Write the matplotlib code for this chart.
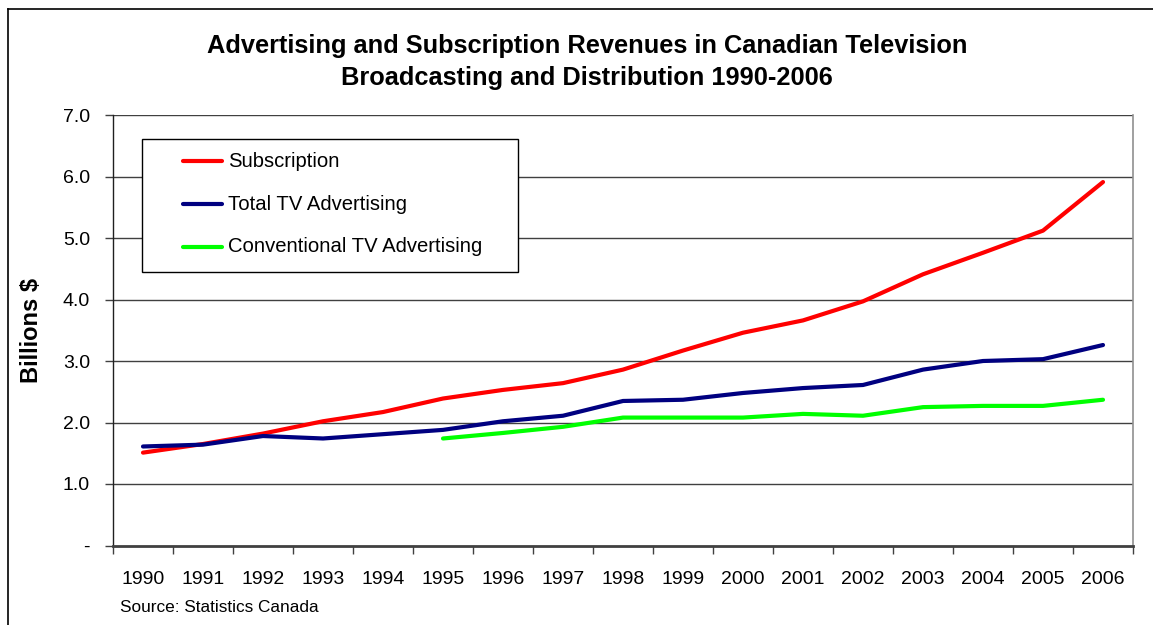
import matplotlib.pyplot as plt
from matplotlib.lines import Line2D
from matplotlib.patches import Rectangle

plt.rcParams["font.family"] = ["Liberation Sans", "DejaVu Sans"]

years = [str(y) for y in range(1990, 2007)]
subscription = [1.51, 1.65, 1.82, 2.02, 2.17, 2.39, 2.53, 2.64, 2.86, 3.17,
                3.46, 3.66, 3.97, 4.41, 4.76, 5.12, 5.91]
total_tv_adv = [1.61, 1.64, 1.78, 1.74, 1.81, 1.88, 2.02, 2.11, 2.35, 2.37,
                2.48, 2.56, 2.61, 2.86, 3.00, 3.03, 3.26]
# conventional series starts in 1995
conv_years = years[5:]
conventional_tv_adv = [1.74, 1.83, 1.93, 2.08, 2.08, 2.08, 2.14, 2.11, 2.25,
                       2.27, 2.27, 2.37]
yticks = [0, 1, 2, 3, 4, 5, 6, 7]
ytick_labels = ["-", "1.0", "2.0", "3.0", "4.0", "5.0", "6.0", "7.0"]

W, H = 1153, 625
fig = plt.figure(figsize=(W / 100, H / 100), dpi=100, facecolor="white")

# plot area in pixel coordinates
left, right, top, bottom = 113, 1133, 115, 545.5
ax = fig.add_axes([left / W, 1 - bottom / H, (right - left) / W, (bottom - top) / H])

x_all = [i + 0.5 for i in range(len(years))]
x_conv = [years.index(y) + 0.5 for y in conv_years]

l1, = ax.plot(x_all, subscription, color="#ff0000", lw=3, solid_capstyle="round",
              label="Subscription", zorder=3)
l2, = ax.plot(x_all, total_tv_adv, color="#000080", lw=3, solid_capstyle="round",
              label="Total TV Advertising", zorder=3)
l3, = ax.plot(x_conv, conventional_tv_adv, color="#00ff00", lw=3,
              solid_capstyle="round", label="Conventional TV Advertising", zorder=3)

ax.set_xlim(0, len(years))
ax.set_ylim(0, 7)

# category boundaries carry the tick marks, labels sit between them
ax.set_xticks(range(len(years) + 1))
ax.set_xticklabels([])
ax.set_xticks(x_all, minor=True)
ax.set_xticklabels(years, minor=True, fontsize=14)
ax.tick_params(axis="x", which="major", direction="out", length=6, width=1,
               color="#404040")
ax.tick_params(axis="x", which="minor", length=0, pad=18)

ax.set_yticks(yticks)
ax.set_yticklabels(ytick_labels, fontsize=14)
ax.tick_params(axis="y", direction="out", length=6, width=1, color="#404040",
               pad=10.5)

for v in yticks[1:]:
    ax.axhline(v, color="#404040", lw=1, zorder=1)

ax.spines["top"].set_visible(False)
ax.spines["left"].set_color("#202020")
ax.spines["left"].set_linewidth(1)
ax.spines["bottom"].set_color("#404040")
ax.spines["bottom"].set_linewidth(2)
ax.spines["right"].set_color("#909090")
ax.spines["right"].set_linewidth(1.2)

# legend box
lx0, ly0, lx1, ly1 = 142, 139, 518, 272
fig.add_artist(Rectangle((lx0 / W, 1 - ly1 / H), (lx1 - lx0) / W, (ly1 - ly0) / H,
                         transform=fig.transFigure, facecolor="white",
                         edgecolor="black", lw=1, zorder=5))
for line, yrow in zip([l1, l2, l3], [161, 204, 247]):
    fig.add_artist(Line2D([183 / W, 222 / W], [1 - yrow / H] * 2,
                          color=line.get_color(), lw=3, solid_capstyle="round",
                          zorder=6))
    fig.text(228 / W, 1 - yrow / H, line.get_label(), fontsize=14.6,
             va="center", ha="left", zorder=6)

# titles and labels
fig.text(587 / W, 1 - 46 / H,
         "Advertising and Subscription Revenues in Canadian Television",
         fontsize=18.3, fontweight="bold", ha="center", va="center")
fig.text(587 / W, 1 - 78 / H, "Broadcasting and Distribution 1990-2006",
         fontsize=18.3, fontweight="bold", ha="center", va="center")
fig.text(31 / W, 1 - 330 / H, "Billions $", fontsize=17, fontweight="bold",
         rotation=90, ha="center", va="center")
fig.text(120 / W, 1 - 608 / H, "Source: Statistics Canada", fontsize=12.4,
         ha="left", va="center")

# outer chart border (runs off the right and bottom edges)
fig.add_artist(Line2D([8 / W, 8 / W], [0, 1 - 9 / H], color="black", lw=1.2,
                      transform=fig.transFigure))
fig.add_artist(Line2D([8 / W, 1], [1 - 9 / H] * 2, color="black", lw=1.2,
                      transform=fig.transFigure))

fig.savefig("out.png", dpi=100, facecolor="white")
